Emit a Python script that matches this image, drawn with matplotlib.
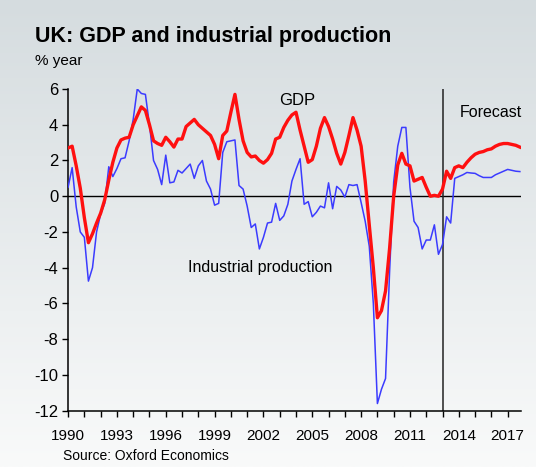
import numpy as np
import matplotlib
matplotlib.use("Agg")
import matplotlib.pyplot as plt
from matplotlib.ticker import MultipleLocator

plt.rcParams['font.family'] = ['Liberation Sans Narrow', 'Liberation Sans', 'DejaVu Sans']
plt.rcParams['axes.unicode_minus'] = False

# quarterly, 1990Q1 .. 2017Q4 (% year)
start_year = 1990
gdp = [2.7, 2.8, 1.7, 0.45, -1.2, -2.6, -2.1, -1.5,
       -0.95, -0.2, 0.9, 1.9, 2.7, 3.15, 3.25, 3.3,
       4.0, 4.5, 5.0, 4.8, 4.0, 3.1, 2.95, 2.85,
       3.3, 3.05, 2.75, 3.2, 3.2, 3.9, 4.1, 4.3,
       4.0, 3.8, 3.6, 3.4, 2.9, 2.1, 3.4, 3.65,
       4.7, 5.7, 4.3, 3.1, 2.45, 2.2, 2.25, 2.0,
       1.85, 2.05, 2.4, 3.2, 3.3, 3.85, 4.25, 4.55,
       4.7, 3.7, 2.8, 1.9, 2.05, 2.8, 3.8, 4.4,
       3.9, 3.2, 2.4, 1.8, 2.45, 3.4, 4.4, 3.7,
       2.8, 0.85, -1.6, -4.0, -6.8, -6.4, -5.3, -2.9,
       0.0, 1.75, 2.4, 1.8, 1.7, 0.85, 0.95, 1.05,
       0.5, 0.0, 0.05, 0.0, 0.4, 1.4, 1.0, 1.6,
       1.7, 1.6, 1.9, 2.15, 2.35, 2.45, 2.5, 2.6,
       2.65, 2.8, 2.9, 2.95, 2.95, 2.9, 2.85, 2.75]
ip = [0.5, 1.6, -0.6, -2.0, -2.3, -4.75, -4.0, -2.0,
      -1.0, -0.4, 1.65, 1.1, 1.55, 2.1, 2.15, 3.1,
      4.3, 6.0, 5.75, 5.7, 4.0, 2.0, 1.5, 0.65,
      2.3, 0.75, 0.8, 1.45, 1.3, 1.55, 1.8, 1.0,
      1.7, 2.0, 0.85, 0.4, -0.5, -0.4, 2.45, 3.05,
      3.1, 3.15, 0.6, 0.4, -0.55, -1.75, -1.55, -2.95,
      -2.3, -1.5, -1.45, -0.4, -1.35, -1.1, -0.45, 0.85,
      1.5, 2.1, -0.45, -0.3, -1.15, -0.9, -0.55, -0.65,
      0.75, -0.7, 0.55, 0.35, -0.05, 0.65, 0.6, 0.65,
      -0.35, -1.4, -2.8, -6.0, -11.6, -10.8, -10.2, -4.2,
      0.8, 2.8, 3.85, 3.85, 0.5, -1.4, -1.75, -2.95,
      -2.45, -2.45, -1.6, -3.25, -2.7, -1.15, -1.5, 1.0,
      1.1, 1.2, 1.33, 1.3, 1.28, 1.15, 1.05, 1.05,
      1.05, 1.2, 1.3, 1.4, 1.5, 1.45, 1.4, 1.38]
forecast_start = 2013.0
year_labels = list(range(1990, 2018, 3))

t = start_year + np.arange(len(gdp)) / 4

fig = plt.figure(figsize=(5.36, 4.67), dpi=100)

# background gradient
bg = fig.add_axes([0, 0, 1, 1], zorder=0)
grad = np.linspace(0, 1, 256).reshape(-1, 1)
top = np.array([213, 220, 223]) / 255
bot = np.array([249, 250, 250]) / 255
img = top + (bot - top) * grad[:, :, None]
bg.imshow(img, aspect='auto', extent=[0, 1, 0, 1])
bg.axis('off')

ax = fig.add_axes([0.127, 0.1206, 0.8444, 0.6888], zorder=1)
ax.patch.set_alpha(0)

ax.axhline(0, color='black', lw=1.0, zorder=2)
ax.axvline(forecast_start, color='#222222', lw=1.1, zorder=2)
ax.plot(t, ip, color='#3b3bff', lw=1.1, zorder=3)
ax.plot(t, gdp, color='#ff1010', lw=2.4, zorder=4)

ax.set_xlim(1990, 2017.8)
ax.set_ylim(-12, 6)
ax.set_yticks(range(-12, 7, 2))
ax.set_xticks(year_labels)
ax.xaxis.set_minor_locator(MultipleLocator(1))
ax.tick_params(axis='x', which='both', direction='out', length=4, width=1.0, pad=9, labelsize=11, colors='black')
ax.tick_params(axis='y', direction='out', length=4, width=1.0, pad=3, labelsize=12)
for s in ['top', 'right']:
    ax.spines[s].set_visible(False)
for s in ['left', 'bottom']:
    ax.spines[s].set_linewidth(1.1)

ax.text(2004.1, 5.38, 'GDP', fontsize=12, ha='center', va='center')
ax.text(2001.8, -3.98, 'Industrial production', fontsize=11.5, ha='center', va='center')
ax.text(2016.0, 4.69, 'Forecast', fontsize=11.5, ha='center', va='center')

fig.text(0.065, 0.91, 'UK: GDP and industrial production', fontsize=15.5, fontweight='bold', ha='left', va='baseline')
fig.text(0.065, 0.861, '% year', fontsize=11, ha='left', va='baseline')
fig.text(0.117, 0.014, 'Source: Oxford Economics', fontsize=10, ha='left', va='baseline')

fig.savefig('out.png', dpi=100)
